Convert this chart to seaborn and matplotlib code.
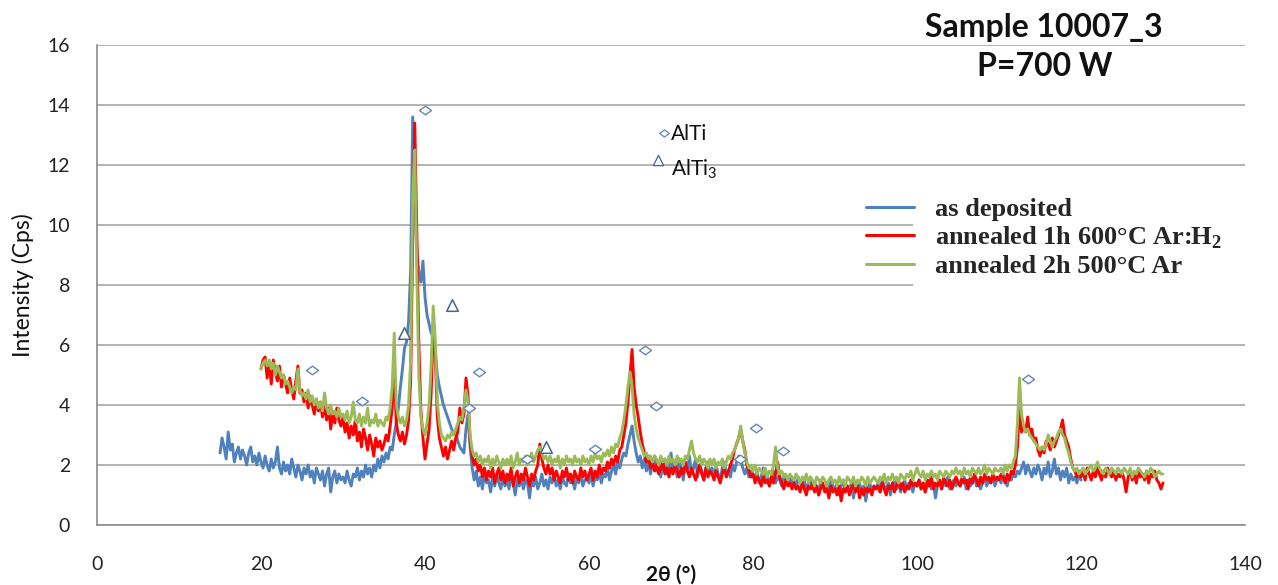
import numpy as np
import pandas as pd
import matplotlib
matplotlib.use("Agg")
import matplotlib.pyplot as plt
from matplotlib.path import Path
from matplotlib.patches import Rectangle
from matplotlib.lines import Line2D
from matplotlib.font_manager import FontProperties
import seaborn as sns

# ---------------------------------------------------------------- data
# 2-theta scan grids (degrees), 0.25 deg steps
two_theta_dep = np.arange(15.0, 120.001, 0.25)
two_theta_ann = np.arange(20.0, 130.001, 0.25)

# intensity (cps) of the as-deposited film, 15..120 deg (one row = 5 deg)
as_deposited = [
    2.4, 2.9, 2.6, 2.2, 3.1, 2.5, 2.7, 2.1, 2.4, 2.6, 2.2, 2.5, 2.3, 2.0, 2.4, 2.6, 2.1, 2.3, 2.0, 2.4,
    2.1, 1.9, 2.3, 2.0, 1.8, 2.2, 1.9, 2.1, 2.6, 1.9, 1.7, 2.1, 1.8, 2.0, 1.7, 2.2, 1.9, 1.6, 2.0, 1.8,
    1.5, 1.9, 1.7, 2.0, 1.6, 1.8, 1.4, 1.9, 1.7, 1.5, 1.8, 1.3, 1.7, 1.9, 1.1, 1.6, 1.8, 1.4, 1.7, 1.5,
    1.6, 1.4, 1.8, 1.5, 1.3, 1.7, 1.6, 1.9, 1.5, 1.8, 1.6, 2.0, 1.7, 1.9, 1.6, 2.0, 1.8, 2.2, 1.9, 2.3,
    2.1, 2.4, 2.2, 2.6, 2.5, 3.0, 3.4, 3.9, 4.6, 5.2, 5.9, 6.1, 6.8, 8.5, 13.6, 11.0, 9.2, 8.4, 8.1, 8.8,
    7.6, 7.0, 6.7, 6.4, 6.3, 5.8, 5.0, 4.6, 4.3, 4.0, 3.8, 3.6, 3.4, 3.2, 3.0, 3.1, 2.8, 2.6, 2.5, 2.4,
    3.2, 3.7, 2.6, 1.9, 1.5, 1.8, 1.3, 1.6, 1.2, 1.7, 1.4, 1.5, 1.1, 1.6, 1.3, 1.7, 1.4, 1.2, 1.6, 1.3,
    1.5, 1.2, 1.7, 1.4, 1.0, 1.5, 1.3, 1.6, 1.2, 1.5, 1.4, 0.9, 1.5, 1.3, 1.6, 1.2, 1.4, 1.7, 1.3, 1.5,
    1.2, 1.6, 1.4, 1.7, 1.3, 1.5, 1.2, 1.6, 1.4, 1.3, 1.7, 1.4, 1.5, 1.2, 1.6, 1.4, 1.7, 1.3, 1.5, 1.6,
    1.4, 1.7, 1.3, 1.6, 1.5, 1.8, 1.4, 1.7, 1.6, 1.9, 1.5, 1.8, 2.0, 1.7, 2.1, 1.9, 2.2, 2.4, 2.3, 2.7,
    3.0, 3.3, 2.8, 2.4, 2.1, 2.3, 1.9, 2.2, 1.8, 2.1, 1.7, 2.0, 2.3, 1.8, 2.1, 1.6, 2.0, 2.2, 1.7, 1.9,
    2.4, 1.8, 2.0, 1.6, 2.2, 1.9, 1.5, 2.1, 1.8, 2.3, 1.7, 1.9, 2.2, 1.6, 2.0, 1.8, 1.5, 1.9, 2.1, 1.7,
    1.9, 1.6, 2.0, 1.7, 1.5, 1.9, 2.1, 1.7, 1.8, 1.6, 2.0, 1.8, 2.1, 2.3, 2.2, 1.9, 1.7, 1.9, 1.6, 1.8,
    1.7, 1.5, 1.8, 1.4, 1.6, 1.9, 1.5, 1.7, 1.3, 1.6, 1.8, 1.4, 1.6, 1.5, 1.3, 1.7, 1.5, 1.4, 1.6, 1.3,
    1.5, 1.2, 1.6, 1.4, 1.3, 1.5, 1.1, 1.4, 1.6, 1.2, 1.4, 1.3, 1.0, 1.5, 1.3, 1.2, 1.4, 1.1, 1.5, 1.3,
    1.2, 1.4, 1.0, 1.3, 1.5, 1.1, 1.3, 1.2, 1.4, 0.9, 1.3, 1.2, 1.4, 1.1, 1.3, 0.8, 1.2, 1.4, 1.1, 1.3,
    1.2, 1.4, 1.1, 1.5, 1.3, 1.2, 1.4, 1.0, 1.3, 1.5, 1.2, 1.4, 1.1, 1.3, 1.5, 1.2, 1.4, 1.3, 1.1, 1.4,
    1.3, 1.5, 1.2, 1.4, 1.1, 1.3, 1.5, 1.2, 1.4, 0.9, 1.3, 1.5, 1.2, 1.4, 1.3, 1.6, 1.2, 1.4, 1.5, 1.3,
    1.5, 1.3, 1.4, 1.6, 1.2, 1.5, 1.3, 1.4, 1.6, 1.3, 1.5, 1.2, 1.4, 1.6, 1.3, 1.5, 1.4, 1.6, 1.3, 1.5,
    1.6, 1.4, 1.7, 1.5, 1.3, 1.6, 1.5, 1.7, 1.6, 1.8, 1.7, 1.9, 2.1, 1.7, 2.0, 1.8, 1.6, 1.9, 1.7, 2.0,
    1.8, 1.5, 1.9, 1.7, 2.1, 1.6, 1.8, 2.2, 1.7, 1.9, 1.5, 1.8, 1.6, 1.9, 1.4, 1.7, 1.5, 1.6, 1.4, 1.7,
    1.5,
]

# intensity (cps) after 1 h at 600 C in Ar:H2, 20..130 deg (one row = 5 deg)
annealed_600_arh2 = [
    5.2, 5.5, 5.6, 4.9, 5.4, 4.7, 5.5, 5.1, 4.8, 5.3, 4.6, 5.0, 4.7, 4.4, 4.9, 4.5, 4.2, 4.8, 5.3, 4.4,
    4.5, 4.1, 4.4, 3.9, 4.3, 4.0, 3.7, 4.2, 3.8, 4.1, 3.6, 4.0, 3.5, 3.9, 3.2, 3.7, 3.4, 3.9, 3.5, 3.3,
    3.6, 3.1, 3.4, 2.9, 3.3, 3.0, 3.5, 2.8, 3.1, 2.6, 3.2, 2.9, 2.5, 3.0, 2.7, 2.3, 2.9, 2.6, 2.8, 2.5,
    2.7, 3.0, 2.8, 3.3, 3.9, 5.2, 3.4, 3.0, 2.8, 3.1, 2.7, 3.0, 3.5, 4.8, 9.5, 13.4, 9.8, 6.0, 3.8, 2.9,
    2.2, 2.7, 3.2, 4.4, 6.5, 5.8, 3.6, 2.9, 2.6, 2.3, 2.6, 2.2, 2.5, 2.8, 2.5, 2.9, 3.1, 3.9, 3.4, 3.7,
    4.9, 4.3, 2.8, 2.3, 2.0, 2.2, 1.8, 2.0, 1.6, 1.9, 1.5, 1.8, 1.6, 1.9, 1.4, 1.7, 1.9, 1.5, 1.8, 1.4,
    1.7, 1.5, 1.9, 1.3, 1.6, 1.8, 1.4, 1.7, 1.5, 1.9, 1.6, 1.3, 1.7, 1.5, 1.8, 2.0, 2.7, 2.2, 1.9, 1.7,
    2.0, 1.7, 1.9, 1.5, 1.8, 1.6, 1.4, 1.8, 1.6, 1.9, 1.5, 1.7, 1.4, 1.8, 1.6, 1.5, 1.9, 1.6, 1.8, 1.5,
    1.7, 1.9, 1.5, 1.8, 1.6, 2.0, 1.7, 1.9, 1.8, 2.1, 1.9, 2.2, 2.0, 2.3, 2.1, 2.5, 2.6, 3.0, 3.4, 4.1,
    5.0, 5.85, 4.6, 4.0, 3.6, 3.1, 2.7, 2.4, 2.1, 2.3, 1.9, 2.1, 1.8, 2.0, 1.7, 1.9, 2.1, 1.7, 1.9, 1.6,
    1.9, 1.7, 2.0, 1.8, 1.6, 1.9, 1.7, 2.1, 1.8, 1.6, 1.9, 1.7, 1.5, 1.8, 2.0, 1.7, 1.5, 1.9, 1.6, 1.8,
    1.7, 1.5, 1.8, 1.6, 1.4, 1.7, 1.9, 1.6, 1.8, 2.0, 2.2, 2.5, 2.7, 2.9, 3.2, 2.8, 2.5, 2.0, 1.8, 1.6,
    1.7, 1.4, 1.6, 1.5, 1.3, 1.6, 1.4, 1.5, 1.3, 1.6, 1.4, 1.7, 2.1, 1.6, 1.4, 1.2, 1.5, 1.3, 1.4, 1.2,
    1.4, 1.2, 1.3, 1.1, 1.4, 1.2, 1.0, 1.3, 1.2, 1.4, 1.1, 1.3, 1.0, 1.2, 1.4, 1.1, 1.2, 0.9, 1.3, 1.1,
    1.2, 1.0, 1.3, 0.8, 1.2, 1.1, 1.3, 1.0, 1.2, 1.4, 1.1, 1.3, 0.9, 1.2, 1.0, 1.3, 1.1, 1.2, 1.0, 1.3,
    1.2, 1.3, 1.1, 1.4, 1.2, 1.0, 1.3, 1.2, 1.4, 1.1, 1.3, 1.5, 1.2, 1.4, 1.1, 1.3, 1.2, 1.5, 1.3, 1.4,
    1.3, 1.5, 1.2, 1.4, 1.1, 1.5, 1.3, 1.6, 1.2, 1.4, 1.3, 1.5, 1.2, 1.6, 1.4, 1.3, 1.5, 1.2, 1.4, 1.6,
    1.4, 1.3, 1.6, 1.4, 1.5, 1.2, 1.6, 1.4, 1.7, 1.5, 1.3, 1.6, 1.4, 1.7, 1.5, 1.6, 1.4, 1.7, 1.5, 1.6,
    1.5, 1.7, 1.6, 1.4, 1.7, 1.5, 1.8, 1.7, 2.0, 2.6, 4.0, 3.1, 3.3, 3.1, 3.6, 3.0, 3.2, 2.8, 2.9, 2.5,
    2.3, 2.6, 2.4, 2.8, 2.7, 2.5, 2.9, 2.6, 2.8, 3.0, 3.2, 3.5, 3.0, 2.8, 2.6, 2.2, 1.9, 1.8, 1.6, 1.8,
    1.6, 1.8, 1.5, 1.9, 1.7, 1.5, 1.8, 1.6, 1.9, 1.7, 1.5, 1.8, 1.6, 1.9, 1.7, 1.6, 1.8, 1.5, 1.7, 1.6,
    1.8, 1.5, 1.1, 1.6, 1.8, 1.5, 1.7, 1.4, 1.8, 1.6, 1.7, 1.5, 1.8, 1.4, 1.7, 1.6, 1.8, 1.5, 1.4, 1.2,
    1.4,
]

# intensity (cps) after 2 h at 500 C in Ar, 20..130 deg (one row = 5 deg)
annealed_500_ar = [
    5.2, 5.4, 5.5, 5.3, 5.5, 5.2, 5.4, 5.0, 5.3, 5.1, 4.9, 5.0, 4.7, 4.8, 4.6, 4.4, 4.6, 4.5, 5.2, 4.5,
    4.3, 4.4, 4.2, 4.5, 4.1, 4.3, 4.0, 4.2, 3.9, 4.1, 3.8, 4.4, 3.9, 3.7, 4.0, 3.7, 3.8, 3.6, 3.9, 3.6,
    3.7, 3.5, 3.8, 3.4, 3.6, 4.1, 3.5, 3.4, 3.7, 3.3, 3.6, 3.4, 3.9, 3.3, 3.5, 3.4, 3.7, 3.3, 3.5, 3.4,
    3.3, 3.6, 3.5, 3.9, 4.6, 6.4, 4.0, 3.6, 3.4, 3.6, 3.3, 3.5, 4.0, 5.5, 11.0, 12.5, 8.4, 5.0, 3.6, 3.2,
    3.0, 3.4, 4.0, 5.3, 7.3, 6.2, 4.1, 3.4, 3.0, 2.9, 2.8, 3.0, 2.9, 3.1, 3.0, 3.2, 3.4, 3.6, 3.5, 3.9,
    4.5, 4.1, 3.0, 2.5, 2.3, 2.4, 2.1, 2.3, 2.0, 2.2, 2.1, 2.3, 1.9, 2.2, 2.0, 2.3, 2.1, 1.9, 2.2, 2.0,
    2.2, 2.0, 2.3, 1.9, 2.1, 2.4, 2.0, 2.2, 2.1, 2.3, 2.0, 2.2, 2.4, 2.1, 2.3, 2.5, 2.6, 2.4, 2.2, 2.3,
    2.1, 2.3, 2.0, 2.2, 2.1, 2.3, 1.9, 2.2, 2.0, 2.3, 2.1, 2.2, 2.0, 2.3, 2.1, 2.2, 2.0, 2.3, 2.1, 2.2,
    2.0, 2.3, 2.1, 2.4, 2.2, 2.3, 2.1, 2.4, 2.3, 2.5, 2.3, 2.6, 2.4, 2.7, 2.6, 2.9, 3.1, 3.5, 4.0, 4.6,
    5.1, 4.6, 3.7, 3.2, 2.9, 2.7, 2.5, 2.3, 2.4, 2.2, 2.3, 2.1, 2.3, 2.2, 2.0, 2.3, 2.1, 2.2, 2.0, 2.3,
    2.1, 2.2, 2.0, 2.3, 2.1, 2.2, 2.0, 2.3, 2.2, 2.5, 2.8, 2.4, 2.2, 2.1, 2.3, 2.0, 2.2, 2.1, 1.9, 2.2,
    2.0, 2.2, 1.9, 2.1, 2.0, 2.2, 1.9, 2.1, 2.3, 2.2, 2.4, 2.5, 2.7, 2.9, 3.3, 2.8, 2.4, 2.1, 1.9, 2.0,
    1.8, 2.0, 1.7, 1.9, 1.8, 1.7, 1.9, 1.6, 1.8, 1.7, 2.0, 2.6, 1.9, 1.7, 1.8, 1.6, 1.7, 1.5, 1.7, 1.6,
    1.5, 1.7, 1.6, 1.4, 1.6, 1.5, 1.7, 1.4, 1.6, 1.5, 1.3, 1.6, 1.5, 1.4, 1.6, 1.5, 1.3, 1.5, 1.6, 1.4,
    1.5, 1.3, 1.6, 1.4, 1.5, 1.3, 1.6, 1.5, 1.4, 1.6, 1.3, 1.5, 1.4, 1.6, 1.5, 1.3, 1.6, 1.4, 1.5, 1.6,
    1.5, 1.4, 1.6, 1.5, 1.7, 1.4, 1.6, 1.5, 1.7, 1.5, 1.6, 1.4, 1.7, 1.6, 1.5, 1.7, 1.6, 1.8, 1.5, 1.7,
    1.9, 1.7, 1.6, 1.8, 1.5, 1.7, 1.6, 1.8, 1.6, 1.7, 1.5, 1.8, 1.7, 1.6, 1.8, 1.7, 1.6, 1.8, 1.7, 1.9,
    1.7, 1.8, 1.6, 1.9, 1.7, 1.8, 1.6, 1.9, 1.8, 1.7, 1.9, 1.7, 1.8, 2.0, 1.7, 1.9, 1.8, 1.7, 1.9, 1.8,
    1.8, 1.9, 1.7, 2.0, 1.8, 2.0, 1.9, 2.1, 2.3, 3.4, 4.9, 3.7, 3.3, 3.1, 3.2, 3.0, 2.9, 2.8, 2.7, 2.6,
    2.5, 2.6, 2.5, 2.7, 3.0, 2.8, 2.6, 2.8, 2.9, 3.1, 3.2, 3.0, 2.9, 2.6, 2.4, 2.1, 1.9, 1.8, 1.9, 1.7,
    1.8, 1.9, 1.7, 1.8, 1.9, 2.0, 1.8, 1.9, 2.1, 1.9, 1.8, 1.7, 1.9, 1.8, 1.7, 1.9, 1.8, 1.7, 1.9, 1.8,
    1.7, 1.9, 1.8, 1.7, 1.9, 1.6, 1.8, 1.7, 1.9, 1.8, 1.7, 1.6, 1.8, 1.7, 1.9, 1.8, 1.6, 1.7, 1.8, 1.7,
    1.7,
]

sample_labels = [
    "as deposited",
    r"annealed 1h 600°C Ar:H$_\mathbf{2}$",
    "annealed 2h 500°C Ar",
]
sample_colors = ["#4F81BD", "#FF0000", "#9BBB59"]

# reflection positions of the identified phases (2-theta, intensity)
alti_x = [26.2, 32.3, 40.0, 45.4, 46.6, 52.4, 60.7, 66.8, 68.2, 78.4, 80.4, 83.7, 113.5]
alti_y = [5.17, 4.13, 13.83, 3.9, 5.1, 2.2, 2.53, 5.83, 3.97, 2.2, 3.23, 2.47, 4.87]
alti3_x = [37.4, 43.3, 54.8]
alti3_y = [6.4, 7.33, 2.6]

# phase key placed inside the plot
key_x = [69.15, 68.4]
key_y = [13.07, 12.17]
key_labels = ["AlTi", r"AlTi$_\mathsf{3}$"]

x_ticks = [0, 20, 40, 60, 80, 100, 120, 140]
y_ticks = [0, 2, 4, 6, 8, 10, 12, 14, 16]

for name, xs, ys in (("as deposited", two_theta_dep, as_deposited),
                     ("600C", two_theta_ann, annealed_600_arh2),
                     ("500C", two_theta_ann, annealed_500_ar)):
    if len(xs) != len(ys):
        raise ValueError(f"{name}: {len(xs)} angles vs {len(ys)} intensities")

# ---------------------------------------------------------------- style
sns.set_style("white")
plt.rcParams["font.family"] = ["Lato", "DejaVu Sans"]
plt.rcParams["mathtext.fontset"] = "custom"
plt.rcParams["mathtext.bf"] = "Liberation Serif:bold"
plt.rcParams["mathtext.sf"] = "Lato"
plt.rcParams["mathtext.rm"] = "Lato"

W, H = 1278, 585
fig = plt.figure(figsize=(W / 100, H / 100), dpi=100)
ax = fig.add_axes([97 / W, 60 / H, 1148 / W, 480 / H])

frames = [
    pd.DataFrame({"two_theta": two_theta_dep, "intensity": as_deposited, "sample": sample_labels[0]}),
    pd.DataFrame({"two_theta": two_theta_ann, "intensity": annealed_600_arh2, "sample": sample_labels[1]}),
    pd.DataFrame({"two_theta": two_theta_ann, "intensity": annealed_500_ar, "sample": sample_labels[2]}),
]
df = pd.concat(frames, ignore_index=True)

sns.lineplot(data=df, x="two_theta", y="intensity", hue="sample",
             hue_order=sample_labels, palette=sample_colors,
             estimator=None, sort=False, linewidth=2.1, legend=False,
             ax=ax, zorder=2)

# flattened diamond marker for AlTi reflections
diamond = Path([(-1.0, 0.0), (0.0, 0.72), (1.0, 0.0), (0.0, -0.72), (-1.0, 0.0)],
               [Path.MOVETO, Path.LINETO, Path.LINETO, Path.LINETO, Path.CLOSEPOLY])

sns.scatterplot(x=alti_x, y=alti_y, marker=diamond, s=75, facecolor="white",
                edgecolor="#6585B8", linewidth=1.0, ax=ax, zorder=4)
sns.scatterplot(x=alti3_x, y=alti3_y, marker="^", s=70, facecolor="white",
                edgecolor="#4A6390", linewidth=1.1, ax=ax, zorder=4)

# phase key
ax.scatter([key_x[0]], [key_y[0]], marker=diamond, s=50, facecolor="white",
           edgecolor="#6585B8", linewidth=0.9, zorder=4)
ax.scatter([key_x[1]], [key_y[1]], marker="^", s=55, facecolor="white",
           edgecolor="#4A6390", linewidth=0.9, zorder=4)
ax.text(key_x[0] + 0.9, key_y[0] - 0.05, key_labels[0], fontsize=15,
        color="#111111", va="center", ha="left")
ax.text(key_x[1] + 1.6, key_y[1] - 0.32, key_labels[1], fontsize=15,
        color="#111111", va="center", ha="left")

# axes styling
ax.set_xlim(0, 140)
ax.set_ylim(0, 16)
ax.set_xticks(x_ticks)
ax.set_yticks(y_ticks)
ax.set_axisbelow(True)
ax.grid(axis="y", color="#A6A6A6", linewidth=1.2)
ax.grid(axis="x", visible=False)
for side in ("top", "right"):
    ax.spines[side].set_visible(False)
for side in ("left", "bottom"):
    ax.spines[side].set_color("#8C8C8C")
    ax.spines[side].set_linewidth(1.2)
ax.tick_params(axis="both", direction="out", length=6.5, width=1.1,
               color="#8C8C8C", labelsize=14, labelcolor="#222222")
ax.tick_params(axis="x", pad=16)
ax.tick_params(axis="y", pad=13)

ax.set_xlabel("2θ (°)", fontsize=15, fontweight="bold",
              family=["Lato", "DejaVu Sans"], color="#111111")
ax.xaxis.set_label_coords(0.5, (525 - 575) / 480)
ax.xaxis.label.set_va("center")
ax.set_ylabel("Intensity (Cps)", fontsize=16.5, color="#111111")
ax.yaxis.set_label_coords((23 - 97) / 1148, 0.5)
ax.yaxis.label.set_va("center")

# white panel behind the legend labels
ax.add_patch(Rectangle((913 / W, 1 - 298 / H), (W - 913) / W, (298 - 190) / H,
                       transform=fig.transFigure, facecolor="white",
                       edgecolor="none", clip_on=False, zorder=1.5))

handles = [Line2D([], [], color=c, linewidth=2.2) for c in sample_colors]
leg = ax.legend(handles, sample_labels, loc="upper left",
                bbox_to_anchor=(866 / W, 1 - 198 / H), bbox_transform=fig.transFigure,
                frameon=False, borderpad=0, borderaxespad=0,
                handlelength=1.8, handletextpad=0.8, labelspacing=0.12,
                prop=FontProperties(family="Liberation Serif", weight="bold", size=19))
leg.set_zorder(5)

# title block
fig.text(1044 / W, 1 - 28 / H, "Sample 10007_3", ha="center", va="center",
         fontsize=23, fontweight="bold", color="#111111")
fig.text(1045 / W, 1 - 66 / H, "P=700 W", ha="center", va="center",
         fontsize=23, fontweight="bold", color="#111111")

fig.savefig("out.png", dpi=100)
